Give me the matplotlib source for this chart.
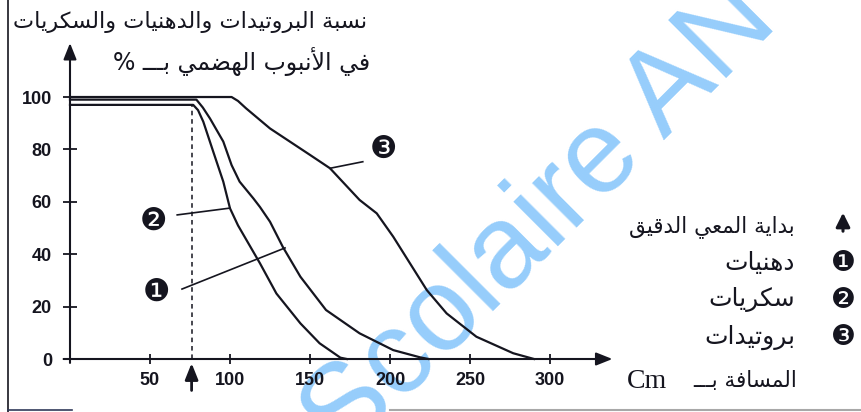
import matplotlib.pyplot as plt

# values (cm, %)
lip_x = [0, 79, 83, 87.5, 95.8, 101, 106, 114.6, 118.75, 125, 133, 144, 160, 181, 202, 219, 224]
lip_y = [99, 99, 96, 91.8, 83, 74, 67.7, 61.3, 58, 52.4, 42.8, 31.4, 18.7, 9.8, 3.4, 0.6, 0]

sug_x = [0, 77, 80, 83.3, 89.6, 95.8, 100, 105, 118.75, 129, 144, 156, 169, 173]
sug_y = [97, 97, 95, 90.6, 79, 67.7, 57.5, 51, 36.5, 25, 13.6, 6, 0.5, 0]

pro_x = [0, 101, 105, 110, 125, 150, 162.5, 181, 191.7, 202, 212.5, 223, 235.4, 254, 277, 290]
pro_y = [100, 100, 98.5, 95.7, 88, 77.9, 72.8, 60.7, 55.6, 46.7, 36.5, 26.3, 17.4, 8.5, 2.2, 0]

small_intestine = 76
x_ticks = [50, 100, 150, 200, 250, 300]
y_ticks = [0, 20, 40, 60, 80, 100]

title1 = "نسبة البروتيدات والدهنيات والسكريات"
title2 = "في الأنبوب الهضمي بـــ"
xlabel = "المسافة بـــ"
legend_start = "بداية المعي الدقيق"
names = ["دهنيات", "سكريات", "بروتيدات"]
marks = ["❶", "❷", "❸"]


# tiny arabic shaper: matplotlib does not join letters nor do RTL
FORMS = {
    'ا': (0xFE8D, 0xFE8E), 'أ': (0xFE83, 0xFE84), 'د': (0xFEA9, 0xFEAA),
    'ر': (0xFEAD, 0xFEAE), 'و': (0xFEED, 0xFEEE), 'ة': (0xFE93, 0xFE94),
    'ب': (0xFE8F, 0xFE90, 0xFE91, 0xFE92), 'ت': (0xFE95, 0xFE96, 0xFE97, 0xFE98),
    'س': (0xFEB1, 0xFEB2, 0xFEB3, 0xFEB4), 'ض': (0xFEBD, 0xFEBE, 0xFEBF, 0xFEC0),
    'ع': (0xFEC9, 0xFECA, 0xFECB, 0xFECC), 'ف': (0xFED1, 0xFED2, 0xFED3, 0xFED4),
    'ق': (0xFED5, 0xFED6, 0xFED7, 0xFED8), 'ك': (0xFED9, 0xFEDA, 0xFEDB, 0xFEDC),
    'ل': (0xFEDD, 0xFEDE, 0xFEDF, 0xFEE0), 'م': (0xFEE1, 0xFEE2, 0xFEE3, 0xFEE4),
    'ن': (0xFEE5, 0xFEE6, 0xFEE7, 0xFEE8), 'ه': (0xFEE9, 0xFEEA, 0xFEEB, 0xFEEC),
    'ي': (0xFEF1, 0xFEF2, 0xFEF3, 0xFEF4),
}
LAM_ALEF = {'ا': (0xFEFB, 0xFEFC), 'أ': (0xFEF7, 0xFEF8)}


def joins_left(c):
    return c == 'ـ' or (c in FORMS and len(FORMS[c]) == 4)


def shape(text):
    out = []
    i = 0
    while i < len(text):
        c = text[i]
        after = i > 0 and joins_left(text[i - 1])
        if c == 'ل' and i + 1 < len(text) and text[i + 1] in LAM_ALEF:
            iso, fin = LAM_ALEF[text[i + 1]]
            out.append(chr(fin if after else iso))
            i += 2
            continue
        if c in FORMS:
            f = FORMS[c]
            nxt = text[i + 1] if i + 1 < len(text) else ' '
            before = len(f) == 4 and (nxt in FORMS or nxt == 'ـ')
            k = 3 if (after and before) else 2 if before else 1 if after else 0
            out.append(chr(f[k]))
        else:
            out.append(c)
        i += 1
    return ''.join(reversed(out))


W, H = 861, 412


def px(x, y):
    return x / W, 1 - y / H


INK = '#15151f'
AR = 'DejaVu Sans'

fig = plt.figure(figsize=(W / 100, H / 100), dpi=100)
ax = fig.add_axes([70 / W, 53 / H, 544 / W, 317 / H])
ax.patch.set_visible(False)
ax.set_xlim(0, 340)
ax.set_ylim(0, 121)
for s in ax.spines.values():
    s.set_visible(False)

arrow = dict(arrowstyle='-|>,head_length=0.7,head_width=0.28', color=INK, lw=1.5,
             mutation_scale=14, shrinkA=0, shrinkB=0)
ax.annotate('', xy=(339, 0), xytext=(-4, 0), arrowprops=arrow, annotation_clip=False)
ax.annotate('', xy=(0, 120.6), xytext=(0, -1.5), arrowprops=arrow, annotation_clip=False)

ax.set_xticks(x_ticks)
ax.set_yticks(y_ticks)
ax.tick_params(axis='y', direction='inout', length=10, width=1.3, pad=8, colors=INK)
ax.tick_params(axis='x', direction='inout', length=7, width=1.3, pad=6, colors=INK)
for lab in ax.get_xticklabels() + ax.get_yticklabels():
    lab.set_family(['Liberation Sans Narrow', 'Liberation Sans'])
    lab.set_fontsize(13)
    lab.set_fontweight('bold')

ax.plot(pro_x, pro_y, color=INK, lw=1.6, clip_on=False)
ax.plot(lip_x, lip_y, color=INK, lw=1.6, clip_on=False)
ax.plot(sug_x, sug_y, color=INK, lw=1.6, clip_on=False)

ax.plot([small_intestine, small_intestine], [0, 97], color=INK, lw=1.1, ls=(0, (3, 2.5)))
ax.annotate('', xy=(small_intestine, -1.6), xytext=(small_intestine, -12),
            arrowprops=dict(arrow, lw=2), annotation_clip=False)

# leader lines to the numbered curves
ax.plot([67, 100], [55, 57.6], color=INK, lw=1.2)
ax.plot([70, 134.4], [26.7, 42.4], color=INK, lw=1.2)
ax.plot([183, 162.5], [75.3, 72.8], color=INK, lw=1.2)
ax.text(52, 52.5, marks[1], fontsize=22, ha='center', va='center', color=INK)
ax.text(54, 25.5, marks[0], fontsize=22, ha='center', va='center', color=INK)
ax.text(195.6, 80, marks[2], fontsize=22, ha='center', va='center', color=INK)

# y title
fig.text(*px(367, 22), shape(title1), family=AR, fontsize=16.2, ha='right', va='center', color=INK)
fig.text(*px(370, 62), '% ' + shape(title2), family=AR, fontsize=17, ha='right', va='center', color=INK)

# x title
fig.text(*px(667, 381), 'Cm', family='Liberation Serif', fontsize=20, ha='right', va='center', color=INK)
fig.text(*px(797, 381), shape(xlabel), family=AR, fontsize=15.5, ha='right', va='center', color=INK)

# legend on the right
fig.add_artist(plt.matplotlib.patches.FancyArrowPatch(
    px(843, 234), px(843, 210), transform=fig.transFigure,
    arrowstyle='-|>,head_length=0.6,head_width=0.3', mutation_scale=14, color=INK, lw=2.2))
fig.text(*px(795, 227), shape(legend_start), family=AR, fontsize=15.5, ha='right', va='center', color=INK)
for k, yy in enumerate([263, 300, 337]):
    fig.text(*px(843, yy), marks[k], fontsize=20, ha='center', va='center', color=INK)
    fig.text(*px(795, yy), shape(names[k]), family=AR, fontsize=18, ha='right', va='center', color=INK)

# scan borders
fig.add_artist(plt.Line2D([8 / W, 8 / W], [0, 1], transform=fig.transFigure, color=INK, lw=1.2))
fig.add_artist(plt.Line2D([8 / W, 72 / W], [2 / H, 2 / H], transform=fig.transFigure, color='#303a5a', lw=1.2))
fig.add_artist(plt.Line2D([390 / W, 1], [2 / H, 2 / H], transform=fig.transFigure, color='#a8a8a8', lw=1.5))

# watermark
fig.text(*px(344, 460), 'Scolaire AN', family='Liberation Sans', fontsize=85, rotation=45,
         rotation_mode='anchor', ha='left', va='baseline', color='#96cdfb', zorder=-1)

fig.savefig('out.png', dpi=100)
